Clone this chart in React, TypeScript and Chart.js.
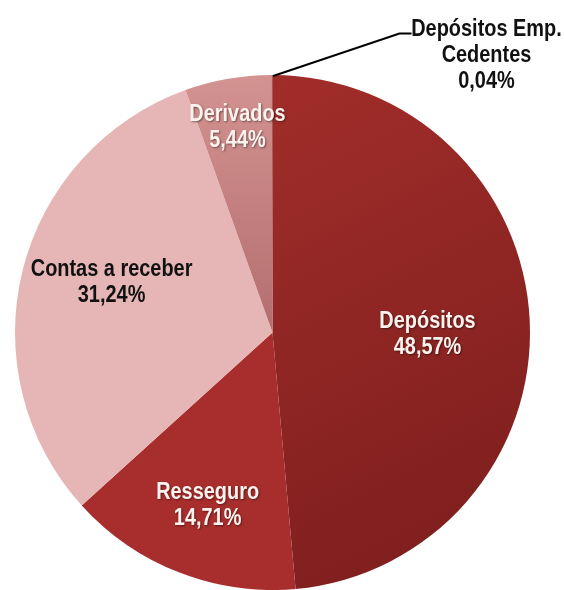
import React, { useEffect, useRef } from "react";
import { Chart, registerables } from "chart.js";

Chart.register(...registerables);

const categories = ["Depósitos", "Resseguro", "Contas a receber", "Derivados", "Depósitos Emp. Cedentes"];
const shares = [48.57, 14.71, 31.24, 5.44, 0.04];
const labelLines = [["Depósitos"], ["Resseguro"], ["Contas a receber"], ["Derivados"], ["Depósitos Emp.", "Cedentes"]];

// label anchor offsets (fractions of radius from pie center)
const labelAnchor = [
  [0.602, 0.008],
  [-0.252, 0.672],
  [-0.625, -0.194],
  [-0.136, -0.798],
  [0.831, -1.076],
];
const labelColor = ["#fdf3ee", "#fdf3ee", "#111111", "#fdf3ee", "#111111"];
const labelShadow = [true, true, false, true, false];

const fmt = (v: number) => v.toFixed(2).replace(".", ",") + "%";

const labelsPlugin = {
  id: "pieLabels",
  afterDraw(chart: any) {
    const ctx = chart.ctx as CanvasRenderingContext2D;
    const meta = chart.getDatasetMeta(0);
    const arc0 = meta.data[0];
    const cx = arc0.x;
    const cy = arc0.y;
    const R = arc0.outerRadius;
    // leader line for the tiny slice
    const tiny = meta.data[4];
    const mid = (tiny.startAngle + tiny.endAngle) / 2;
    ctx.save();
    ctx.strokeStyle = "#000";
    ctx.lineWidth = 2;
    ctx.beginPath();
    ctx.moveTo(cx + Math.cos(mid) * R + 1, cy + Math.sin(mid) * R + 1);
    ctx.lineTo(cx + 0.493 * R, cy - 1.161 * R);
    ctx.lineTo(cx + 0.54 * R, cy - 1.161 * R);
    ctx.stroke();
    ctx.restore();

    const lineH = 26;
    const sx = 0.83;
    categories.forEach((_, i) => {
      const lines = [...labelLines[i], fmt(shares[i])];
      const ax = cx + labelAnchor[i][0] * R;
      const ay = cy + labelAnchor[i][1] * R;
      const y0 = ay - ((lines.length - 1) * lineH) / 2;
      ctx.save();
      ctx.font = 'bold 24px "Liberation Sans", Arial, sans-serif';
      ctx.textAlign = "center";
      ctx.textBaseline = "middle";
      ctx.fillStyle = labelColor[i];
      if (labelShadow[i]) {
        ctx.shadowColor = "rgba(0,0,0,0.45)";
        ctx.shadowBlur = 2;
        ctx.shadowOffsetX = 1;
        ctx.shadowOffsetY = 1;
      }
      lines.forEach((t, k) => {
        ctx.save();
        ctx.translate(ax, y0 + k * lineH);
        ctx.scale(sx, 1);
        ctx.fillText(t, 0, 0);
        ctx.restore();
      });
      ctx.restore();
    });
  },
};

export default function App() {
  const ref = useRef<HTMLCanvasElement>(null);
  useEffect(() => {
    const canvas = ref.current!;
    const makeFill = (ctxArg: any) => {
      const chart = ctxArg.chart;
      const area = chart.chartArea;
      const i = ctxArg.dataIndex;
      if (!area) return "#8f2524";
      const c = chart.ctx as CanvasRenderingContext2D;
      if (i === 0) {
        const g = c.createLinearGradient(area.left + area.width / 2, area.top, area.right, area.bottom);
        g.addColorStop(0, "#a12d2a");
        g.addColorStop(1, "#7a1d1c");
        return g;
      }
      if (i === 1) return "#a72e2d";
      if (i === 2) return "#e5b6b5";
      if (i === 3) {
        const g = c.createLinearGradient(0, area.top, 0, area.top + area.height / 2);
        g.addColorStop(0, "#d39391");
        g.addColorStop(1, "#b46d6e");
        return g;
      }
      return "#7a1d1c";
    };
    const chart = new Chart(canvas, {
      type: "pie",
      data: {
        labels: categories,
        datasets: [
          {
            data: shares,
            backgroundColor: makeFill as any,
            borderWidth: 0,
          },
        ],
      },
      options: {
        responsive: false,
        animation: false,
        layout: { padding: { left: 15, right: 35, top: 75, bottom: 0 } },
        plugins: {
          legend: { display: false },
          tooltip: { enabled: false },
        },
      },
      plugins: [labelsPlugin],
    });
    return () => chart.destroy();
  }, []);
  return (
    <div style={{ position: "absolute", left: 0, top: 0, width: 565, height: 590, background: "#fff" }}>
      <canvas ref={ref} width={565} height={590} style={{ display: "block" }} />
    </div>
  );
}
